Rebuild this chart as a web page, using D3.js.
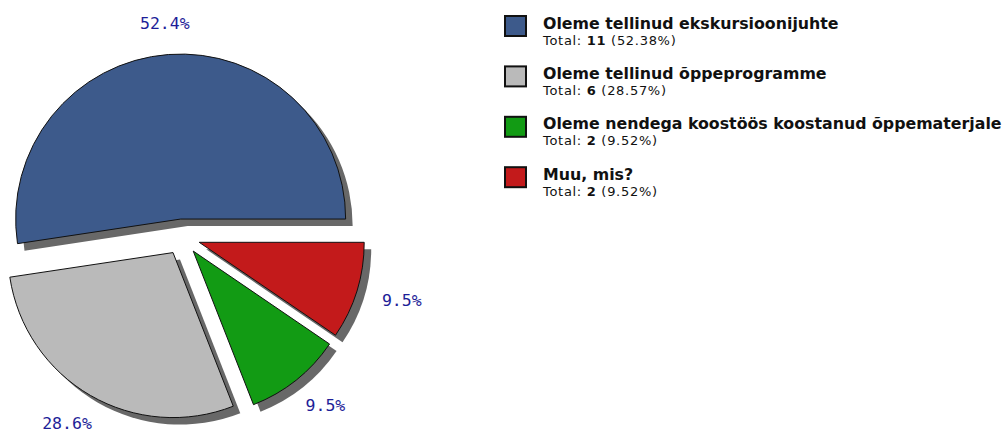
<!DOCTYPE html>
<html>
<head>
<meta charset="utf-8">
<script src="https://cdn.jsdelivr.net/npm/d3@7"></script>
<style>
  html, body { margin: 0; padding: 0; background: #fff; }
  svg { display: block; }
</style>
</head>
<body>
<div id="chart"></div>
<script>
// answers and their counts
var categories = [
    'Oleme tellinud ekskursioonijuhte',
    'Oleme tellinud õppeprogramme',
    'Oleme nendega koostöös koostanud õppematerjale',
    'Muu, mis?'
];
var counts = [11, 6, 2, 2];
var colors = ['#3d5a8b', '#bababa', '#129b14', '#c31a1b'];

var width = 1003, height = 436;
var total = d3.sum(counts);

var svg = d3.select('#chart')
    .append('svg')
    .attr('width', width)
    .attr('height', height);

// pie geometry
var cx = 182, cy = 237;
var radius = 165;
var explode = 18;

// start at 3 o'clock, go counter clockwise
var pie = d3.pie()
    .sort(null)
    .startAngle(Math.PI / 2)
    .endAngle(Math.PI / 2 - 2 * Math.PI);

var arc = d3.arc()
    .innerRadius(0)
    .outerRadius(radius);

var slices = pie(counts);

var midOf = function(d) {
    var a = (d.startAngle + d.endAngle) / 2;
    return [Math.sin(a), -Math.cos(a)];
};

var graph = svg.append('g').attr('transform', 'translate(' + cx + ',' + cy + ')');

// shadows first
graph.selectAll('path.shadow')
    .data(slices)
    .enter()
    .append('path')
    .attr('class', 'shadow')
    .attr('fill', '#686868')
    .attr('transform', function(d) {
        var m = midOf(d);
        return 'translate(' + (m[0] * explode + 7) + ',' + (m[1] * explode + 7) + ')';
    })
    .attr('d', arc);

graph.selectAll('path.slice')
    .data(slices)
    .enter()
    .append('path')
    .attr('class', 'slice')
    .attr('fill', function(d, i) { return colors[i]; })
    .attr('stroke', '#111')
    .attr('stroke-width', 1)
    .attr('stroke-linejoin', 'round')
    .attr('transform', function(d) {
        var m = midOf(d);
        return 'translate(' + (m[0] * explode) + ',' + (m[1] * explode) + ')';
    })
    .attr('d', arc);

// percent labels
var labelRx = 230, labelRy = 215;
graph.selectAll('text.pct')
    .data(slices)
    .enter()
    .append('text')
    .attr('class', 'pct')
    .attr('x', function(d) { return midOf(d)[0] * labelRx; })
    .attr('y', function(d) { return midOf(d)[1] * labelRy; })
    .attr('text-anchor', 'middle')
    .attr('dy', '0.36em')
    .attr('fill', '#1e1e98')
    .style('font-family', '"DejaVu Sans Mono", monospace')
    .style('font-size', '16.5px')
    .text(function(d) { return (d.value / total * 100).toFixed(1) + '%'; });

// legend
var legend = svg.append('g').attr('transform', 'translate(504,15)');
var rowStep = 50.4;

var rows = legend.selectAll('g.row')
    .data(categories)
    .enter()
    .append('g')
    .attr('class', 'row')
    .attr('transform', function(d, i) { return 'translate(0,' + (i * rowStep) + ')'; });

rows.append('rect')
    .attr('x', 1)
    .attr('y', 1)
    .attr('width', 21)
    .attr('height', 20)
    .attr('fill', function(d, i) { return colors[i]; })
    .attr('stroke', '#111')
    .attr('stroke-width', 2);

rows.append('text')
    .attr('x', 39)
    .attr('y', 13.5)
    .attr('fill', '#111')
    .style('font-family', '"DejaVu Sans", Verdana, sans-serif')
    .style('font-weight', 'bold')
    .style('font-size', '15.8px')
    .text(function(d) { return d; });

var totals = rows.append('text')
    .attr('x', 39)
    .attr('y', 29.5)
    .attr('fill', '#111')
    .style('font-family', '"DejaVu Sans", sans-serif')
    .style('font-size', '13px')
    .style('letter-spacing', '0.7px');

totals.append('tspan').text('Total: ');
totals.append('tspan')
    .style('font-weight', 'bold')
    .text(function(d, i) { return counts[i]; });
totals.append('tspan')
    .text(function(d, i) { return ' (' + (counts[i] / total * 100).toFixed(2) + '%)'; });
</script>
</body>
</html>
